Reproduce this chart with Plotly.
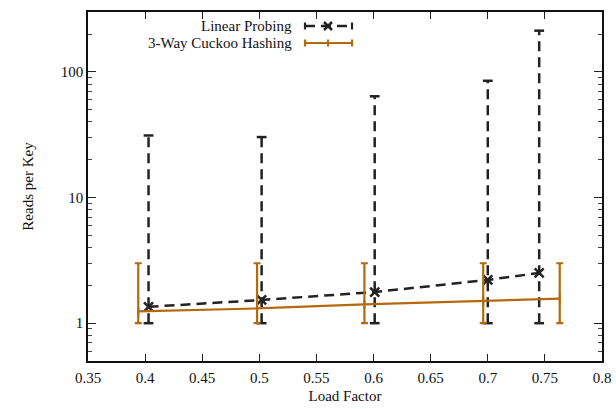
import plotly.graph_objects as go

# Reads per key vs. load factor: mean with min/max range
lp_load = [0.403, 0.502, 0.601, 0.700, 0.745]
lp_mean = [1.35, 1.53, 1.77, 2.21, 2.51]
lp_min = [1, 1, 1, 1, 1]
lp_max = [31.2, 30.3, 64, 85, 213]

ck_load = [0.394, 0.498, 0.592, 0.696, 0.763]
ck_mean = [1.24, 1.31, 1.41, 1.50, 1.57]
ck_min = [1, 1, 1, 1, 1]
ck_max = [3, 3, 3, 3, 3]

x_ticks = [0.35, 0.4, 0.45, 0.5, 0.55, 0.6, 0.65, 0.7, 0.75, 0.8]
x_labels = ["0.35", "0.4", "0.45", "0.5", "0.55", "0.6", "0.65", "0.7", "0.75", "0.8"]
y_ticks = [1, 10, 100]
y_labels = ["1", "10", "100"]

BLACK = "#222222"
ORANGE = "#b5690c"
FONT = "Liberation Serif"
DASH = "10px,6px"

W, H = 616, 409
ML, MR, MT, MB = 88, 14, 12, 48
PW, PH = W - ML - MR, H - MT - MB


def px(x):
    return (x - ML) / PW


def py(y):
    return (H - MB - y) / PH


fig = go.Figure()

# Dashed min-max ranges for linear probing (error bars can't be dashed)
rx, ry = [], []
for x, lo, hi in zip(lp_load, lp_min, lp_max):
    rx += [x, x, None]
    ry += [lo, hi, None]
fig.add_trace(go.Scatter(
    x=rx, y=ry, mode="lines", hoverinfo="skip",
    line=dict(color=BLACK, width=2.5, dash=DASH), showlegend=False,
))
fig.add_trace(go.Scatter(
    x=lp_load + lp_load, y=lp_min + lp_max, mode="markers", hoverinfo="skip",
    marker=dict(symbol="line-ew", size=7, line=dict(color=BLACK, width=2.5)),
    showlegend=False,
))

fig.add_trace(go.Scatter(
    x=lp_load, y=lp_mean, mode="lines+markers", name="Linear Probing",
    line=dict(color=BLACK, width=2.5, dash=DASH),
    marker=dict(symbol="x-thin", size=9, line=dict(color=BLACK, width=2.5)),
    showlegend=False,
))

fig.add_trace(go.Scatter(
    x=ck_load, y=ck_mean, mode="lines+markers", name="3-Way Cuckoo Hashing",
    line=dict(color=ORANGE, width=2.2),
    marker=dict(symbol="line-ns", size=6, line=dict(color=ORANGE, width=2)),
    error_y=dict(type="data", symmetric=False,
                 array=[a - m for a, m in zip(ck_max, ck_mean)],
                 arrayminus=[m - b for m, b in zip(ck_mean, ck_min)],
                 color=ORANGE, thickness=2.2, width=3.5),
    showlegend=False,
))

# Key box: right-aligned titles with line samples to their right
shapes = []
annotations = []
key = [
    ("Linear Probing", 26, BLACK, "dash"),
    ("3-Way Cuckoo Hashing", 43, ORANGE, "solid"),
]
x0, x1, xm = 305, 352, 328
for text, yy, col, dash in key:
    annotations.append(dict(
        text=text, xref="paper", yref="paper", x=px(294), y=py(yy),
        xanchor="right", yanchor="middle", showarrow=False,
        font=dict(family=FONT, size=15, color="#111111"),
    ))
    shapes.append(dict(type="line", xref="paper", yref="paper",
                       x0=px(x0), x1=px(x1), y0=py(yy), y1=py(yy),
                       line=dict(color=col, width=2.5 if col == BLACK else 2.2,
                                 dash=DASH if dash == "dash" else "solid")))
    for cx in (x0, x1):
        shapes.append(dict(type="line", xref="paper", yref="paper",
                           x0=px(cx), x1=px(cx), y0=py(yy - 3.5), y1=py(yy + 3.5),
                           line=dict(color=col, width=2.2)))
    if col == BLACK:
        for d in (-1, 1):
            shapes.append(dict(type="line", xref="paper", yref="paper",
                               x0=px(xm - 4), x1=px(xm + 4),
                               y0=py(yy - 4 * d), y1=py(yy + 4 * d),
                               line=dict(color=col, width=2.5)))
    else:
        shapes.append(dict(type="line", xref="paper", yref="paper",
                           x0=px(xm), x1=px(xm), y0=py(yy - 3.5), y1=py(yy + 3.5),
                           line=dict(color=col, width=2)))

fig.update_layout(
    width=W, height=H,
    margin=dict(l=ML, r=MR, t=MT, b=MB),
    paper_bgcolor="white", plot_bgcolor="white",
    font=dict(family=FONT, size=15, color="#111111"),
    shapes=shapes, annotations=annotations,
    xaxis=dict(
        range=[0.35, 0.8], tickvals=x_ticks, ticktext=x_labels,
        ticks="inside", ticklen=7, tickwidth=1, tickcolor="#222",
        ticklabelstandoff=2, automargin=False,
        showline=True, linecolor="#111", linewidth=1.5, mirror="ticks",
        showgrid=False, zeroline=False,
        title=dict(text="Load Factor", standoff=6, font=dict(family=FONT, size=15)),
    ),
    yaxis=dict(
        type="log", range=[-0.301, 2.477],
        tickvals=y_ticks, ticktext=y_labels, automargin=False,
        ticks="inside", ticklen=8, tickwidth=1, tickcolor="#222",
        minor=dict(ticks="inside", ticklen=4, tickcolor="#444", dtick="D1", showgrid=False),
        showline=True, linecolor="#111", linewidth=1.5, mirror="ticks",
        showgrid=False, zeroline=False,
        title=dict(text="Reads per Key", standoff=24, font=dict(family=FONT, size=15)),
    ),
)

fig.write_html("out.html")
